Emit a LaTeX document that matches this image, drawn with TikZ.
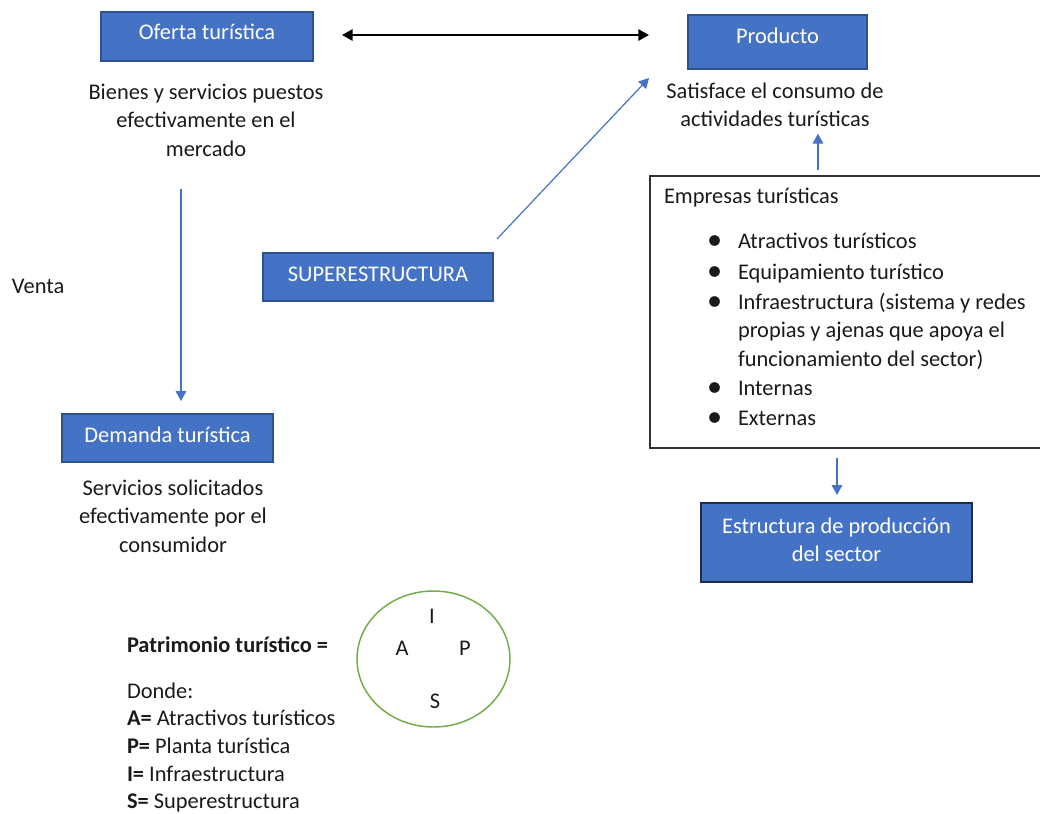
\documentclass[tikz,border=0pt]{standalone}
\usepackage{fontspec}
\setmainfont{Carlito}
\usetikzlibrary{arrows.meta,calc,shapes.geometric}
\newdimen\pxu \pxu=0.75pt
\definecolor{obl}{HTML}{4472C4}
\definecolor{obd}{HTML}{2F528F}
\definecolor{odk}{HTML}{1F2D4A}
\definecolor{ogr}{HTML}{70AD47}
\definecolor{txt}{HTML}{1A1A1A}
\newcommand\fl{\rule{0pt}{20\pxu}}
\newcommand\bul{\makebox[31\pxu][l]{\raisebox{-1\pxu}{\scalebox{1.35}{•}}}}
\begin{document}
\begin{tikzpicture}[x=0.75pt,y=-0.75pt,
  every node/.style={inner sep=0pt, outer sep=0pt, text=txt, font=\fontsize{16.8}{21.4}\selectfont},
  bbox/.style={draw=obd, fill=obl, text=white, line width=0.8pt},
  panel/.style={draw=black!80, line width=1.1pt},
  barrow/.style={draw=obl, line width=0.9pt, -{Triangle[length=7.5pt,width=8pt]}},
  dbl/.style={draw=black, line width=1.5pt, {Triangle[length=8pt,width=8.5pt]}-{Triangle[length=8pt,width=8.5pt]}},
  circ/.style={draw=ogr, line width=1.1pt, ellipse}
]
\useasboundingbox (0,0) rectangle (1040,814);

% top boxes
\node[bbox, minimum width=212\pxu, minimum height=49\pxu, text height=10\pxu, text depth=5\pxu] (oferta) at (207,36.5) {Oferta turística};
\node[bbox, minimum width=179\pxu, minimum height=54\pxu, text height=7\pxu, text depth=5\pxu] (producto) at (777.5,42) {Producto};

\node[anchor=north, align=center] (bienes) at (206,79) {\fl Bienes y servicios puestos\\efectivamente en el\\mercado};
\node[anchor=north, align=center] (satisface) at (775,78) {\fl Satisface el consumo de\\actividades turísticas};

% middle left
\node[anchor=base west] (venta) at (12,293) {Venta};
\node[bbox, minimum width=230\pxu, minimum height=48\pxu, text height=13\pxu, text depth=5\pxu] (super) at (378,277) {SUPERESTRUCTURA};
\node[bbox, minimum width=211\pxu, minimum height=48\pxu, text height=13\pxu, text depth=5\pxu] (demanda) at (167.5,438) {Demanda turística};
\node[anchor=north, align=center] (servicios) at (173,475) {\fl Servicios solicitados\\efectivamente por el\\consumidor};

% empresas panel
\node[panel, minimum width=393\pxu, minimum height=272\pxu] (empresas) at (846.5,312) {};
\node[anchor=base west] (emptit) at (664,203) {Empresas turísticas};
\node[anchor=base west] (it1) at (707,248) {\bul Atractivos turísticos};
\node[anchor=base west] (it2) at (707,279) {\bul Equipamiento turístico};
\node[anchor=north west, align=left] (it3) at (707,289) {\fl\bul Infraestructura (sistema y redes\\\hspace*{31\pxu}propias y ajenas que apoya el\\\hspace*{31\pxu}funcionamiento del sector)};
\node[anchor=base west] (it4) at (707,395) {\bul Internas};
\node[anchor=base west] (it5) at (707,425) {\bul Externas};

\node[bbox, draw=odk, line width=1.2pt, minimum width=271\pxu, minimum height=79\pxu, align=center] (estructura) at (836.5,542.5) {Estructura de producción\\del sector\rule[-6\pxu]{0pt}{0pt}};

% patrimonio
\node[anchor=base west, font=\fontsize{16.8}{21.4}\selectfont\bfseries] (patri) at (127,652) {Patrimonio turístico =};
\node[anchor=north west, align=left, font=\fontsize{16.8}{20.8}\selectfont] (donde) at (127,678) {\fl Donde:\\\textbf{A=} Atractivos turísticos\\\textbf{P=} Planta turística\\\textbf{I=} Infraestructura\\\textbf{S=} Superestructura};
\node[circ, minimum width=153\pxu, minimum height=136\pxu] (elip) at (433.5,659) {};
\node[anchor=base] (li) at (432,623) {I};
\node[anchor=base] (la) at (402,655) {A};
\node[anchor=base] (lp) at (465,655) {P};
\node[anchor=base] (ls) at (435,708) {S};

% connectors
\draw[dbl] ($(oferta.east)+(29,-1.5)$) -- ($(producto.west)+(-39,-7)$);
\draw[barrow] ($(super.north east)+(4,-14)$) -- ($(producto.south west)+(-39,9)$);
\draw[barrow] ($(empresas.north)+(-28.5,-6)$) -- ($(satisface.south)+(43,7)$);
\draw[barrow] ($(bienes.south)+(-25,33)$) -- ($(demanda.north)+(13.5,-13)$);
\draw[barrow] ($(empresas.south)+(-9.5,10)$) -- ($(estructura.north)+(0.5,-8)$);
\end{tikzpicture}
\end{document}
